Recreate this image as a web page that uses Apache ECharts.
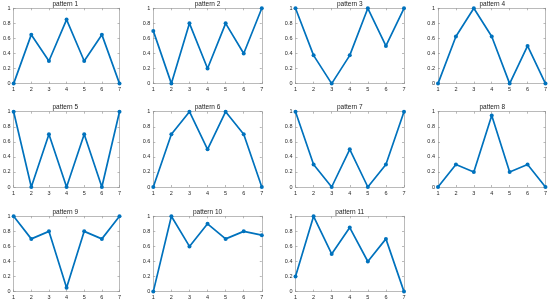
<!DOCTYPE html>
<html><head><meta charset="utf-8">
<script src="https://cdn.jsdelivr.net/npm/echarts@6/dist/echarts.min.js"></script>
<style>html,body{margin:0;padding:0;background:#fff}#c{width:550px;height:301px}</style>
</head><body><div id="c"></div>
<script>
const xCategories = [1, 2, 3, 4, 5, 6, 7];
const yTicks = [0, 0.2, 0.4, 0.6, 0.8, 1];
const titles = ['pattern 1','pattern 2','pattern 3','pattern 4','pattern 5','pattern 6','pattern 7','pattern 8','pattern 9','pattern 10','pattern 11'];
const pattern1 = [0, 0.65, 0.3, 0.85, 0.3, 0.65, 0];
const pattern2 = [0.7, 0, 0.8, 0.2, 0.8, 0.4, 1];
const pattern3 = [1, 0.375, 0, 0.375, 1, 0.5, 1];
const pattern4 = [0, 0.625, 1, 0.625, 0, 0.5, 0];
const pattern5 = [1, 0, 0.7, 0, 0.7, 0, 1];
const pattern6 = [0, 0.7, 1, 0.5, 1, 0.7, 0];
const pattern7 = [1, 0.3, 0, 0.5, 0, 0.3, 1];
const pattern8 = [0, 0.3, 0.2, 0.95, 0.2, 0.3, 0];
const pattern9 = [1, 0.7, 0.8, 0.05, 0.8, 0.7, 1];
const pattern10 = [0, 1, 0.6, 0.9, 0.7, 0.8, 0.75];
const pattern11 = [0.2, 1, 0.5, 0.85, 0.4, 0.7, 0];
const patterns = [pattern1,pattern2,pattern3,pattern4,pattern5,pattern6,pattern7,pattern8,pattern9,pattern10,pattern11];

const lefts = [11, 153.3, 295.5, 438];
const tops = [8.3, 111.7, 216.3];
const W = 108.5, H = 75.3;
const axisColor = '#8c8c8c';
const labelColor = '#262626';
const FONT = 'Helvetica, Arial, "Liberation Sans", sans-serif';

const grid = [], xAxis = [], yAxis = [], series = [], title = [];
patterns.forEach((p, i) => {
  const r = Math.floor(i / 4), c = i % 4;
  const L = lefts[c], T = tops[r];
  grid.push({left: L, top: T, width: W, height: H, show: false});
  title.push({text: titles[i], left: L + W / 2, top: T - 8, textAlign: 'center', padding: 0,
    textStyle: {fontSize: 6.5, fontWeight: 'normal', color: '#222', fontFamily: FONT, lineHeight: 7}});
  const lab = {fontSize: 5.5, color: labelColor, fontFamily: FONT, margin: 3};
  xAxis.push({type: 'value', gridIndex: i, min: 1, max: 7, interval: 1, position: 'bottom',
    axisLine: {show: true, lineStyle: {color: axisColor, width: 0.6}},
    axisTick: {show: true, inside: true, length: 2, lineStyle: {color: axisColor, width: 0.6}},
    axisLabel: Object.assign({}, lab, {formatter: v => String(v)}),
    splitLine: {show: false}});
  xAxis.push({type: 'value', gridIndex: i, min: 1, max: 7, interval: 1, position: 'top',
    axisLine: {show: true, onZero: false, lineStyle: {color: axisColor, width: 0.6}},
    axisTick: {show: true, inside: true, length: 2, lineStyle: {color: axisColor, width: 0.6}},
    axisLabel: {show: false}, splitLine: {show: false}});
  yAxis.push({type: 'value', gridIndex: i, min: 0, max: 1, interval: 0.2, position: 'left',
    axisLine: {show: true, onZero: false, lineStyle: {color: axisColor, width: 0.6}},
    axisTick: {show: true, inside: true, length: 2, lineStyle: {color: axisColor, width: 0.6}},
    axisLabel: Object.assign({}, lab, {formatter: v => String(Math.round(v * 10) / 10)}),
    splitLine: {show: false}});
  yAxis.push({type: 'value', gridIndex: i, min: 0, max: 1, interval: 0.2, position: 'right',
    axisLine: {show: true, onZero: false, lineStyle: {color: axisColor, width: 0.6}},
    axisTick: {show: true, inside: true, length: 2, lineStyle: {color: axisColor, width: 0.6}},
    axisLabel: {show: false}, splitLine: {show: false}});
  series.push({type: 'line', xAxisIndex: 2 * i, yAxisIndex: 2 * i,
    data: p.map((v, k) => [xCategories[k], v]),
    lineStyle: {color: '#0072BD', width: 1.7},
    itemStyle: {color: '#0072BD'},
    symbol: 'circle', symbolSize: 4, showSymbol: true, animation: false, silent: true, clip: false});
});

const chart = echarts.init(document.getElementById('c'), null, {renderer: 'canvas'});
chart.setOption({animation: false, backgroundColor: '#fff', title, grid, xAxis, yAxis, series});
</script></body></html>
